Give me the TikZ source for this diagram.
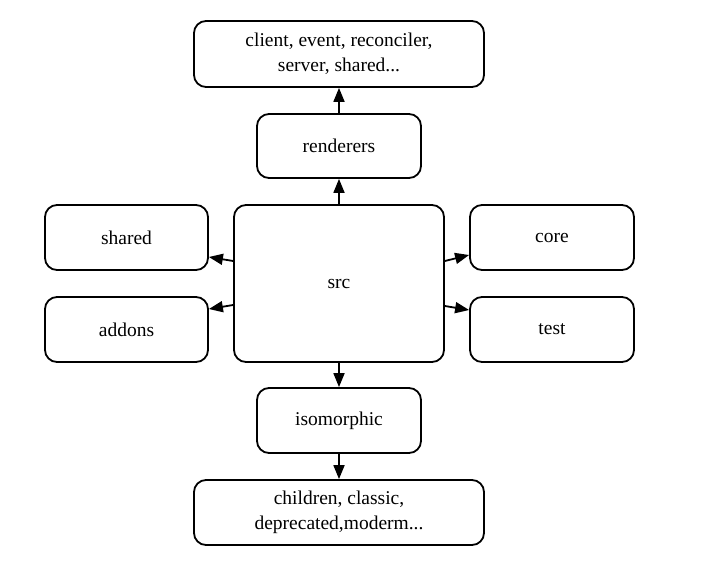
\documentclass[tikz,border=0pt]{standalone}
\usepackage{fontspec}
\setmainfont{Liberation Serif}
\usetikzlibrary{arrows.meta}
\begin{document}
\begin{tikzpicture}[x=1pt,y=-1pt,
  box/.style={draw, line width=1.8pt, rounded corners=12pt,
    font=\fontsize{19.5}{25}\selectfont, align=center, inner sep=0pt},
  link/.style={line width=1.8pt, -{Triangle[length=14pt,width=11pt]}}]
\useasboundingbox (0,0) rectangle (711,567);
\node[box, minimum width=290pt, minimum height=66pt] (top) at (339,54) {client, event, reconciler,\\server, shared...};
\node[box, minimum width=164pt, minimum height=64pt] (renderers) at (339,146) {renderers};
\node[box, minimum width=210pt, minimum height=157pt] (src) at (339,283.5) {src};
\node[box, minimum width=163pt, minimum height=65pt] (shared) at (126.5,237.5) {shared};
\node[box, minimum width=163pt, minimum height=65pt] (addons) at (126.5,329.5) {addons};
\node[box, minimum width=164pt, minimum height=65pt] (core) at (552,237.5) {core};
\node[box, minimum width=164pt, minimum height=65pt] (test) at (552,329.5) {test};
\node[box, minimum width=164pt, minimum height=65pt] (iso) at (339,420.5) {isomorphic};
\node[box, minimum width=290pt, minimum height=65pt] (bottom) at (339,512.5) {children, classic,\\deprecated,moderm...};
\draw[link] (src.north) -- (renderers.south);
\draw[link] (renderers.north) -- (top.south);
\draw[link] (src.south) -- (iso.north);
\draw[link] (iso.south) -- (bottom.north);
\draw[link] (src.west |- 0,261) -- (shared.east |- 0,257);
\draw[link] (src.west |- 0,305) -- (addons.east |- 0,309);
\draw[link] (src.east |- 0,261) -- (core.west |- 0,255);
\draw[link] (src.east |- 0,306) -- (test.west |- 0,310);
\end{tikzpicture}
\end{document}
